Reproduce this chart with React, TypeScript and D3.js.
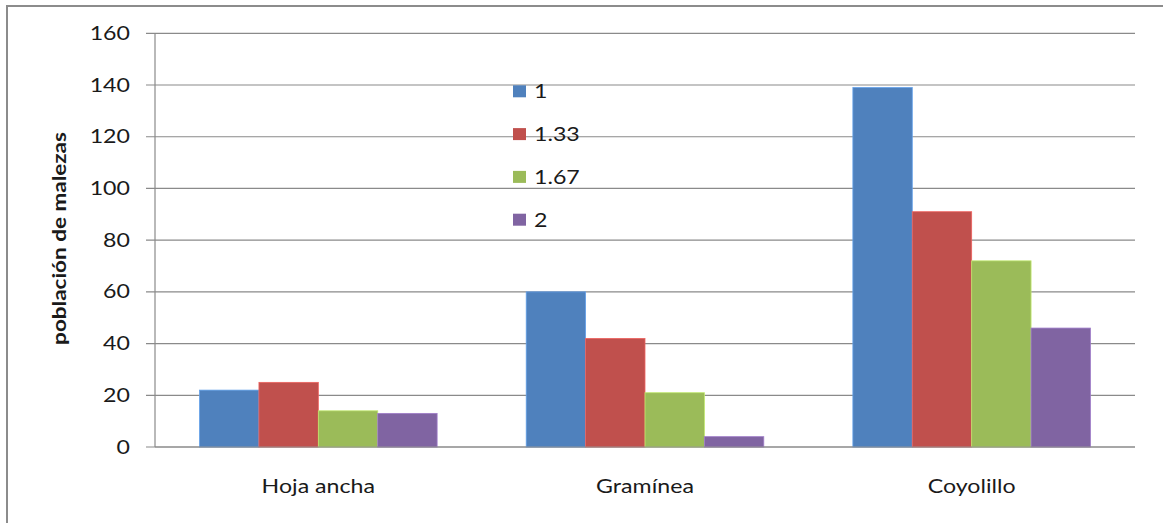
import React, { useEffect, useRef } from "react";
import * as d3 from "d3";

// Weed population by type and treatment
const categories = ["Hoja ancha", "Gramínea", "Coyolillo"];
const seriesNames = ["1", "1.33", "1.67", "2"];
const seriesColors = ["#4F81BD", "#C0504D", "#9BBB59", "#8064A2"];
const values1 = [22, 60, 139];
const values133 = [25, 42, 91];
const values167 = [14, 21, 72];
const values2 = [13, 4, 46];
const yTicks = [0, 20, 40, 60, 80, 100, 120, 140, 160];
const yTitle = "población de malezas";

const W = 1163;
const H = 523;
const FONT = "Lato, 'Open Sans', sans-serif";
const FS = 19;
const SX = 1.22; // horizontal widening of labels

export default function App() {
  const ref = useRef<SVGSVGElement>(null);

  useEffect(() => {
    const svg = d3.select(ref.current);
    svg.selectAll("*").remove();

    const left = 155;
    const right = 1135;
    const top = 33.3;
    const bottom = 447;
    const series = [values1, values133, values167, values2];

    const label = (
      g: d3.Selection<any, unknown, null, undefined>,
      x: number,
      yPos: number,
      txt: string,
      anchor: string
    ) =>
      g
        .append("text")
        .attr("transform", `translate(${x},${yPos}) scale(${SX},1)`)
        .attr("text-anchor", anchor)
        .attr("font-family", FONT)
        .attr("font-size", FS)
        .attr("fill", "#1a1a1a")
        .text(txt);

    // frame
    svg
      .append("rect")
      .attr("x", 7)
      .attr("y", 6)
      .attr("width", W + 20)
      .attr("height", H + 20)
      .attr("fill", "#fff")
      .attr("stroke", "#8c8c8c")
      .attr("stroke-width", 2);

    const y = d3.scaleLinear().domain([0, 160]).range([bottom, top]);
    const x0 = d3.scaleBand<string>().domain(categories).range([left, right]).paddingInner(0).paddingOuter(0);
    // gap of 150% of a bar width between clusters
    const barW = x0.bandwidth() / 5.5;

    // gridlines and ticks
    const grid = svg.append("g");
    yTicks.forEach((t) => {
      grid
        .append("line")
        .attr("x1", left - 9)
        .attr("x2", right)
        .attr("y1", y(t))
        .attr("y2", y(t))
        .attr("stroke", "#8a8a8a")
        .attr("stroke-width", 1.2);
      label(grid, 130, y(t) + 6.5, String(t), "end");
    });

    // y axis line
    svg
      .append("line")
      .attr("x1", left)
      .attr("x2", left)
      .attr("y1", top)
      .attr("y2", bottom)
      .attr("stroke", "#8a8a8a")
      .attr("stroke-width", 1.2);

    // bars
    series.forEach((vals, si) => {
      svg
        .append("g")
        .selectAll("rect")
        .data(vals)
        .join("rect")
        .attr("x", (_, i) => (x0(categories[i]) as number) + barW * 0.75 + si * barW)
        .attr("y", (d) => y(d))
        .attr("width", barW)
        .attr("height", (d) => bottom - y(d))
        .attr("fill", seriesColors[si])
        .attr("stroke", d3.color(seriesColors[si])!.brighter(0.6).formatHex())
        .attr("stroke-width", 0.8);
    });

    // baseline
    svg
      .append("line")
      .attr("x1", left)
      .attr("x2", right)
      .attr("y1", bottom)
      .attr("y2", bottom)
      .attr("stroke", "#8a8a8a")
      .attr("stroke-width", 1.2);

    // category labels
    const cats = svg.append("g");
    categories.forEach((c) => {
      label(cats, (x0(c) as number) + x0.bandwidth() / 2, 493, c, "middle");
    });

    // y axis title
    svg
      .append("text")
      .attr("transform", `translate(66, ${238.5}) scale(0.82,1) rotate(-90)`)
      .attr("text-anchor", "middle")
      .attr("font-family", FONT)
      .attr("font-size", 22.5)
      .attr("font-weight", "bold")
      .attr("fill", "#1a1a1a")
      .text(yTitle);

    // legend
    const legend = svg.append("g");
    seriesNames.forEach((n, i) => {
      const base = 98.3 + i * 42.8;
      legend
        .append("rect")
        .attr("x", 513)
        .attr("y", base - 13)
        .attr("width", 13)
        .attr("height", 12)
        .attr("fill", seriesColors[i]);
      label(legend, 534, base, n, "start");
    });
  }, []);

  return (
    <svg
      ref={ref}
      width={W}
      height={H}
      style={{ position: "absolute", left: 0, top: 0, background: "#fff" }}
    />
  );
}
